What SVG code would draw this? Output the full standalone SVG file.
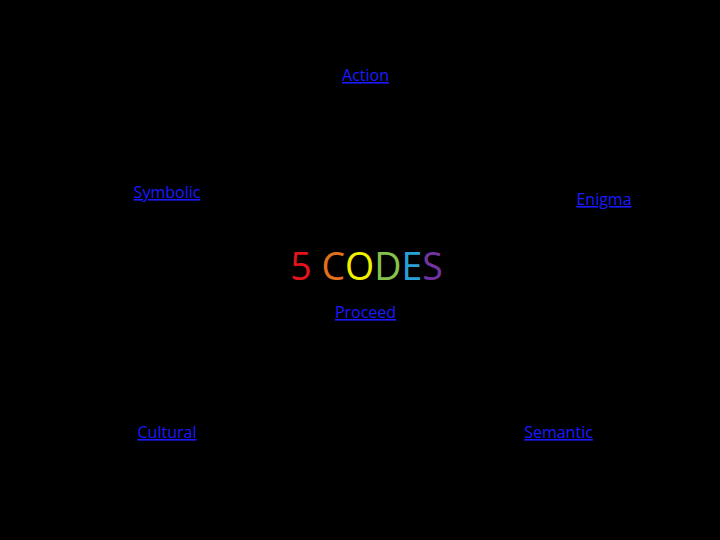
<svg xmlns="http://www.w3.org/2000/svg" width="720" height="540" viewBox="0 0 720 540">
<style>
.lnk{font-family:"Open Sans","Noto Sans",sans-serif;font-size:16px;fill:#1a1aff;text-decoration:underline;text-anchor:middle}
.title{font-family:"Open Sans","Noto Sans",sans-serif;font-size:37.5px;text-anchor:middle}
</style>
<rect width="720" height="540" fill="#000"/>
<g id="title"><text class="title" x="366.5" y="280"><tspan fill="#e3141b">5 </tspan><tspan fill="#e2701f">C</tspan><tspan fill="#f2f200">O</tspan><tspan fill="#86c24a">D</tspan><tspan fill="#2aa0db">E</tspan><tspan fill="#7134a2">S</tspan></text></g>
<g id="action"><text class="lnk" x="365.5" y="81">Action</text></g>
<g id="symbolic"><text class="lnk" x="167" y="198">Symbolic</text></g>
<g id="enigma"><text class="lnk" x="604" y="205">Enigma</text></g>
<g id="proceed"><text class="lnk" x="365.5" y="318">Proceed</text></g>
<g id="cultural"><text class="lnk" x="167" y="438">Cultural</text></g>
<g id="semantic"><text class="lnk" x="558.5" y="438">Semantic</text></g>
<g id="connectors"></g>
</svg>
